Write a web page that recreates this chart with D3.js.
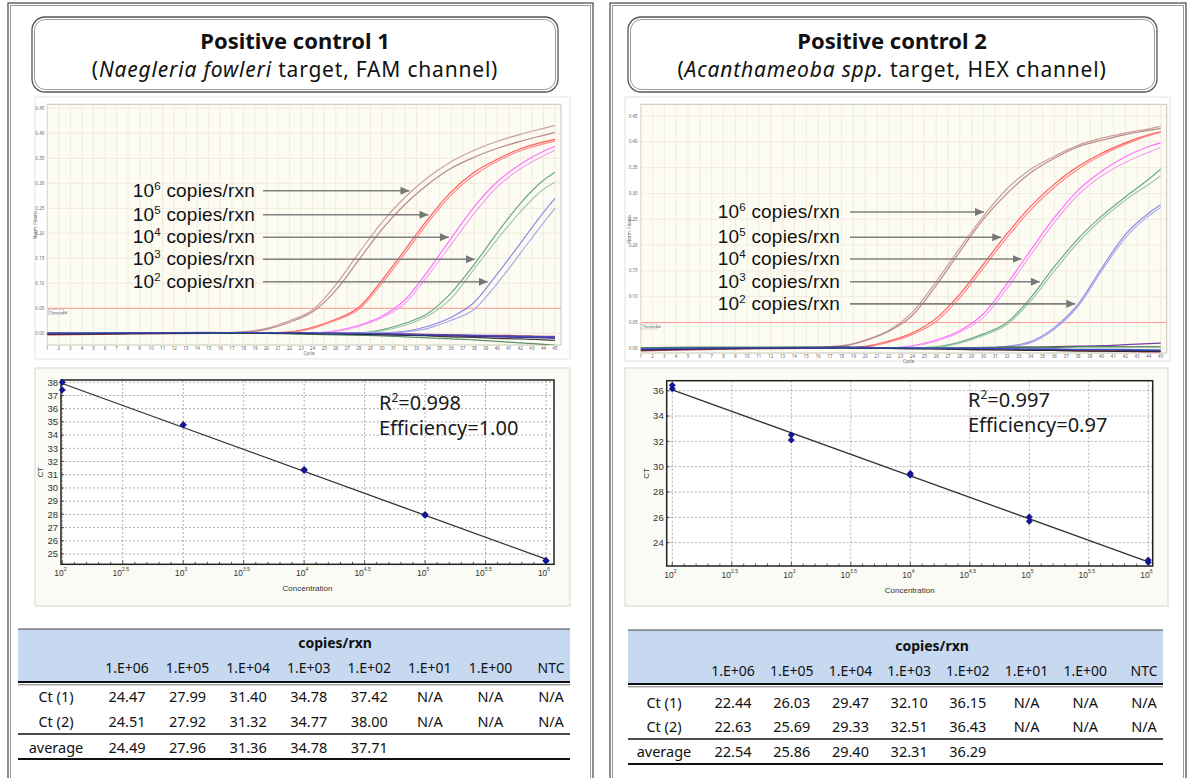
<!DOCTYPE html>
<html lang="en">
<head>
<meta charset="UTF-8"/>
<title>Positive controls - amplification and standard curves</title>
<script src="https://d3js.org/d3.v7.min.js"></script>
<style>
body{margin:0;background:#fff;}
svg{display:block;font-family:"Noto Sans","DejaVu Sans",sans-serif;}
</style>
</head>
<body>
<script>
var W = 1189, H = 778;

//------------ data ------------
// cycles at which the amplification curves were read
var cycles = [1,5,10,15,18,20,22,24,26,28,30,32,34,36,38,40,42,44,45];

// FAM channel (Naegleria fowleri), normalised fluorescence
var famBrown1 = [0.000,0.001,0.001,0.001,0.003,0.010,0.025,0.047,0.097,0.161,0.222,0.272,0.312,0.343,0.366,0.384,0.398,0.410,0.416];
var famBrown2 = [-0.001,0.000,0.001,0.001,0.002,0.008,0.022,0.043,0.086,0.147,0.208,0.258,0.298,0.330,0.352,0.370,0.384,0.396,0.402];
var famRed1   = [0.000,0.001,0.001,0.001,0.001,0.001,0.003,0.012,0.028,0.052,0.106,0.167,0.229,0.283,0.322,0.348,0.369,0.383,0.388];
var famRed2   = [-0.001,0.000,0.000,0.001,0.001,0.001,0.002,0.010,0.026,0.048,0.100,0.160,0.222,0.277,0.316,0.344,0.365,0.379,0.385];
var famMag1   = [0.000,0.000,0.001,0.001,0.001,0.001,0.001,0.001,0.005,0.016,0.034,0.067,0.125,0.190,0.253,0.303,0.338,0.364,0.374];
var famMag2   = [-0.001,0.000,0.000,0.001,0.001,0.001,0.001,0.001,0.004,0.014,0.031,0.060,0.116,0.178,0.240,0.293,0.329,0.355,0.366];
var famGreen1 = [0.000,0.000,0.001,0.001,0.001,0.001,0.001,0.001,0.001,0.001,0.007,0.020,0.040,0.081,0.138,0.201,0.260,0.306,0.322];
var famGreen2 = [-0.001,0.000,0.000,0.001,0.001,0.001,0.001,0.001,0.001,0.001,0.005,0.016,0.035,0.070,0.129,0.188,0.243,0.288,0.302];
var famBlue1  = [0.000,0.000,0.001,0.001,0.001,0.001,0.001,0.001,0.001,0.001,0.001,0.004,0.014,0.032,0.062,0.119,0.180,0.242,0.270];
var famBlue2  = [-0.001,0.000,0.000,0.001,0.001,0.001,0.001,0.001,0.001,0.001,0.000,0.003,0.010,0.026,0.048,0.100,0.160,0.221,0.250];
// no amplification (10^1, 10^0, NTC)
var famNeg1 = [-0.002,-0.001,0.000,0.001,0.001,0.001,0.000,0.000,-0.001,-0.001,-0.002,-0.003,-0.004,-0.005,-0.006,-0.007,-0.008,-0.009,-0.010];
var famNeg2 = [0.001,0.000,0.001,0.002,0.001,0.000,0.001,0.000,0.000,-0.001,-0.002,-0.002,-0.003,-0.004,-0.005,-0.006,-0.007,-0.008,-0.008];
var famNeg3 = [-0.003,-0.002,-0.001,0.000,0.000,0.001,0.001,0.000,0.000,0.000,-0.001,-0.001,-0.002,-0.003,-0.004,-0.004,-0.005,-0.006,-0.006];
var famNeg4 = [0.000,0.000,0.000,0.001,0.000,0.000,-0.001,-0.002,-0.003,-0.004,-0.005,-0.007,-0.009,-0.011,-0.013,-0.016,-0.019,-0.022,-0.024];
var famNeg5 = [-0.001,-0.001,0.000,0.000,0.001,0.000,0.000,-0.001,-0.001,-0.002,-0.003,-0.004,-0.005,-0.007,-0.008,-0.010,-0.011,-0.013,-0.014];
var famNeg6 = [0.000,0.001,0.001,0.001,0.002,0.001,0.001,0.001,0.000,0.000,-0.001,-0.002,-0.003,-0.003,-0.004,-0.005,-0.006,-0.007,-0.007];

// HEX channel (Acanthameoba spp.)
var hexBrown1 = [0.000,0.001,0.001,0.001,0.005,0.016,0.035,0.070,0.129,0.194,0.256,0.309,0.347,0.372,0.393,0.407,0.417,0.425,0.430];
var hexBrown2 = [0.000,0.000,0.001,0.001,0.004,0.015,0.033,0.064,0.122,0.187,0.250,0.300,0.340,0.368,0.390,0.403,0.414,0.422,0.426];
var hexRed1   = [0.000,0.001,0.001,0.001,0.001,0.004,0.014,0.030,0.058,0.105,0.163,0.222,0.275,0.318,0.352,0.378,0.398,0.414,0.420];
var hexRed2   = [0.000,0.000,0.001,0.001,0.001,0.003,0.012,0.027,0.052,0.098,0.156,0.215,0.268,0.312,0.347,0.374,0.395,0.412,0.418];
var hexMag1   = [0.000,0.001,0.001,0.001,0.001,0.001,0.001,0.005,0.016,0.034,0.067,0.125,0.190,0.253,0.306,0.343,0.371,0.391,0.398];
var hexMag2   = [0.000,0.000,0.001,0.001,0.001,0.001,0.001,0.004,0.014,0.031,0.060,0.116,0.181,0.244,0.297,0.334,0.360,0.380,0.389];
var hexGreen1 = [0.000,0.001,0.001,0.001,0.001,0.001,0.001,0.001,0.003,0.012,0.028,0.050,0.098,0.158,0.212,0.256,0.293,0.328,0.347];
var hexGreen2 = [0.000,0.000,0.001,0.001,0.001,0.001,0.001,0.001,0.002,0.010,0.025,0.046,0.092,0.150,0.205,0.250,0.287,0.318,0.334];
var hexBlue1  = [0.000,0.001,0.001,0.001,0.001,0.001,0.001,0.001,0.001,0.001,0.002,0.004,0.013,0.040,0.085,0.155,0.220,0.262,0.278];
var hexBlue2  = [0.000,0.000,0.001,0.001,0.001,0.001,0.001,0.001,0.001,0.001,0.001,0.003,0.011,0.037,0.081,0.150,0.214,0.257,0.273];
var hexNeg1 = [-0.004,-0.002,0.000,0.001,0.002,0.002,0.001,0.001,0.000,0.000,-0.001,-0.001,-0.002,-0.002,-0.003,-0.003,-0.004,-0.004,-0.005];
var hexNeg2 = [-0.002,0.000,0.001,0.002,0.002,0.001,0.001,0.000,0.000,0.001,0.001,0.002,0.002,0.003,0.004,0.005,0.007,0.009,0.010];
var hexNeg3 = [-0.005,-0.003,-0.001,0.000,0.001,0.001,0.000,0.000,-0.001,-0.002,-0.002,-0.003,-0.004,-0.004,-0.005,-0.006,-0.006,-0.007,-0.007];
var hexNeg4 = [0.001,0.002,0.002,0.002,0.002,0.001,0.001,0.001,0.001,0.001,0.001,0.002,0.002,0.002,0.003,0.003,0.003,0.003,0.003];
var hexNeg5 = [-0.003,-0.001,0.000,0.001,0.001,0.000,0.000,-0.001,-0.001,-0.002,-0.003,-0.003,-0.004,-0.004,-0.005,-0.005,-0.006,-0.006,-0.006];
var hexNeg6 = [-0.001,0.000,0.001,0.001,0.001,0.001,0.001,0.001,0.000,0.000,0.000,-0.001,-0.001,-0.001,-0.002,-0.002,-0.002,-0.003,-0.003];

// label rows: exponent of copies/rxn and the fluorescence level the arrow points at
var copyExp = [6,5,4,3,2];
var famLabelLevel = [0.285,0.237,0.192,0.148,0.103];
var hexLabelLevel = [0.264,0.215,0.173,0.129,0.086];

// table
var concLabels = ["1.E+06","1.E+05","1.E+04","1.E+03","1.E+02","1.E+01","1.E+00","NTC"];
var conc = [1e6,1e5,1e4,1e3,1e2];
var famCt1 = [24.47,27.99,31.40,34.78,37.42,null,null,null];
var famCt2 = [24.51,27.92,31.32,34.77,38.00,null,null,null];
var famAvg = [24.49,27.96,31.36,34.78,37.71];
var hexCt1 = [22.44,26.03,29.47,32.10,36.15,null,null,null];
var hexCt2 = [22.63,25.69,29.33,32.51,36.43,null,null,null];
var hexAvg = [22.54,25.86,29.40,32.31,36.29];
var famFit = ["0.998","1.00"];
var hexFit = ["0.997","0.97"];

//------------ layout of the two panels ------------
var curveColors = ["#c9a19c","#b98a86","#ff5c5c","#ff8a8a","#ff70ff","#f2a2f2","#68a982","#9ccaae","#8a8ae6","#a9a9f0"];
var negColors = ["#1a1a8c","#5a2090","#a0204a","#3f7f50","#202020","#3050d0"];

var panels = [
  { title:"Positive control 1", species:"Naegleria fowleri", channel:" target, FAM channel)", cx:295,
    frame:[8,3,585], tbox:[32,17,526,75],
    curves:[famBrown1,famBrown2,famRed1,famRed2,famMag1,famMag2,famGreen1,famGreen2,famBlue1,famBlue2],
    negs:[famNeg1,famNeg2,famNeg3,famNeg4,famNeg5,famNeg6], levels:famLabelLevel,
    amp:{box:[35,97,535,262], left:47.3, right:561, top:104.3, bottom:345, x45:555, y0:333.3, y45:108.3, textRight:255, arrowStart:263},
    std:{box:[35,368,535,238], left:61, right:554, top:380, bottom:564.3, xr:[62.3,546], yd:[25,38], yr:[554,382.3], yt:d3.range(25,39), tx:379, ty:410},
    tab:{x0:18, x1:570, top:629, copies:643, copiesX:335, head:668, dbl:682, r1:697, r2:722, line:734, avg:748, bottom:759, cols:[127,551], lab:56},
    ct1:famCt1, ct2:famCt2, avg:famAvg, fit:famFit },
  { title:"Positive control 2", species:"Acanthameoba spp.", channel:" target, HEX channel)", cx:892,
    frame:[610,3,576], tbox:[628,17,529,75],
    curves:[hexBrown1,hexBrown2,hexRed1,hexRed2,hexMag1,hexMag2,hexGreen1,hexGreen2,hexBlue1,hexBlue2],
    negs:[hexNeg1,hexNeg2,hexNeg3,hexNeg4,hexNeg5,hexNeg6], levels:hexLabelLevel,
    amp:{box:[625,97,545,264], left:640.7, right:1166.7, top:104.3, bottom:353, x45:1160.7, y0:348.3, y45:116, textRight:840, arrowStart:850},
    std:{box:[625,368,543,238], left:666.7, right:1152.7, top:380.7, bottom:566, xr:[672.3,1148.3], yd:[24,36], yr:[542.7,390.7], yt:d3.range(24,37,2), tx:968, ty:407},
    tab:{x0:628, x1:1163, top:630, copies:646, copiesX:932, head:671, dbl:684, r1:703, r2:727, line:739, avg:752, bottom:764, cols:[733,1144], lab:664},
    ct1:hexCt1, ct2:hexCt2, avg:hexAvg, fit:hexFit }
];

var svg = d3.select("body").append("svg").attr("width",W).attr("height",H);
var defs = svg.append("defs");
defs.append("marker").attr("id","arrowHead")
    .attr("viewBox","0 0 10 10").attr("refX",10).attr("refY",5)
    .attr("markerUnits","userSpaceOnUse").attr("markerWidth",9).attr("markerHeight",9)
    .attr("orient","auto")
    .append("path").attr("d","M0,0.5L10,5L0,9.5z").attr("fill","#777");

var fmt2 = d3.format(".2f");
var narrow = "'Liberation Sans Narrow','Liberation Sans',Arial,sans-serif";
var labelFont = "'Liberation Sans',Arial,sans-serif";

panels.forEach(function(p, pi){
  var g = svg.append("g");

  //------------ panel frame and title box ------------
  g.append("rect").attr("x",p.frame[0]).attr("y",p.frame[1]).attr("width",p.frame[2]).attr("height",H+20)
   .attr("fill","none").attr("stroke","#444").attr("stroke-width",1.2);
  g.append("rect").attr("x",p.frame[0]+2.5).attr("y",p.frame[1]+2.5).attr("width",p.frame[2]-5).attr("height",H+20)
   .attr("fill","none").attr("stroke","#9a9a9a").attr("stroke-width",1);

  var tb = p.tbox;
  g.append("rect").attr("x",tb[0]).attr("y",tb[1]).attr("width",tb[2]).attr("height",tb[3])
   .attr("rx",13).attr("fill","#fff").attr("stroke","#555").attr("stroke-width",1.3);
  g.append("rect").attr("x",tb[0]+2.5).attr("y",tb[1]+2.5).attr("width",tb[2]-5).attr("height",tb[3]-5)
   .attr("rx",11).attr("fill","none").attr("stroke","#999").attr("stroke-width",1);
  g.append("text").attr("x",p.cx).attr("y",49).attr("text-anchor","middle")
   .attr("font-size",22).attr("font-weight","bold").attr("fill","#111").text(p.title);
  var sub = g.append("text").attr("x",p.cx).attr("y",77).attr("text-anchor","middle")
   .attr("font-size",21).attr("letter-spacing",0.8).attr("fill","#111");
  sub.append("tspan").text("(");
  sub.append("tspan").attr("font-style","italic").text(p.species);
  sub.append("tspan").text(p.channel);

  //------------ amplification plot ------------
  var a = p.amp;
  var xA = d3.scaleLinear().domain([1,45]).range([a.left,a.x45]);
  var yA = d3.scaleLinear().domain([0,0.45]).range([a.y0,a.y45]);

  g.append("rect").attr("x",a.box[0]).attr("y",a.box[1]).attr("width",a.box[2]).attr("height",a.box[3])
   .attr("fill","#fff").attr("stroke","#e2e2e2");
  g.append("rect").attr("x",a.left).attr("y",a.top).attr("width",a.right-a.left).attr("height",a.bottom-a.top)
   .attr("fill","#fdfcf3").attr("stroke","#c9c4b6").attr("stroke-width",1);

  var clipId = "ampClip"+pi;
  defs.append("clipPath").attr("id",clipId).append("rect")
      .attr("x",a.left).attr("y",a.top).attr("width",a.right-a.left).attr("height",a.bottom-a.top);

  g.append("g").selectAll("line").data(d3.range(1,46)).enter().append("line")
   .attr("x1",function(d){return xA(d);}).attr("x2",function(d){return xA(d);})
   .attr("y1",a.top).attr("y2",a.bottom).attr("stroke","#ece7d8").attr("stroke-width",0.8);
  var yTicksA = d3.range(0,0.46,0.05);
  g.append("g").selectAll("line").data(yTicksA).enter().append("line")
   .attr("x1",a.left).attr("x2",a.right)
   .attr("y1",function(d){return yA(d);}).attr("y2",function(d){return yA(d);})
   .attr("stroke","#ece7d8").attr("stroke-width",0.8);

  // tiny tick labels
  g.append("g").selectAll("text").data(yTicksA).enter().append("text")
   .attr("x",a.left-3).attr("y",function(d){return yA(d)+1.5;})
   .attr("text-anchor","end").attr("font-size",4.5).attr("fill","#666")
   .text(function(d){return fmt2(d);});
  g.append("g").selectAll("text").data(d3.range(1,46)).enter().append("text")
   .attr("x",function(d){return xA(d);}).attr("y",a.bottom+5)
   .attr("text-anchor","middle").attr("font-size",4.5).attr("fill","#666")
   .text(function(d){return d;});
  g.append("text").attr("x",xA(23.2)).attr("y",a.bottom+10).attr("font-size",4.5).attr("fill","#666").text("Cycle");
  g.append("text").attr("transform","translate("+(a.left-10)+","+((a.top+a.bottom)/2)+") rotate(-90)")
   .attr("text-anchor","middle").attr("font-size",4.5).attr("fill","#666").text("Norm. Fluoro.");

  // threshold
  g.append("line").attr("x1",a.left).attr("x2",a.right).attr("y1",yA(0.05)).attr("y2",yA(0.05))
   .attr("stroke","#ff9a9a").attr("stroke-width",1);
  g.append("rect").attr("x",a.left+1).attr("y",yA(0.05)+1.5).attr("width",15).attr("height",5)
   .attr("fill","#fff").attr("stroke","#999").attr("stroke-width",0.4);
  g.append("text").attr("x",a.left+2).attr("y",yA(0.05)+5.3).attr("font-size",3.8).attr("fill","#444").text("Threshold");

  var line = d3.line()
      .x(function(d,i){return xA(cycles[i]);})
      .y(function(d){return yA(d);})
      .curve(d3.curveMonotoneX);
  var curveG = g.append("g").attr("clip-path","url(#"+clipId+")");
  curveG.selectAll("path.amp").data(p.curves).enter().append("path").attr("class","amp")
   .attr("d",line).attr("fill","none")
   .attr("stroke",function(d,i){return curveColors[i];}).attr("stroke-width",1.2);
  curveG.selectAll("path.neg").data(p.negs).enter().append("path").attr("class","neg")
   .attr("d",line).attr("fill","none")
   .attr("stroke",function(d,i){return negColors[i];}).attr("stroke-width",1.3).attr("opacity",0.85);

  // labels with arrows pointing at the first replicate of each dilution
  function crossCycle(vals, level){
    for (var i=1;i<vals.length;i++){
      if (vals[i] >= level){
        var t = (level-vals[i-1])/(vals[i]-vals[i-1]);
        return cycles[i-1] + t*(cycles[i]-cycles[i-1]);
      }
    }
    return 45;
  }
  copyExp.forEach(function(e, k){
    var lv = p.levels[k];
    var yy = yA(lv);
    var tip = xA(crossCycle(p.curves[k*2], lv)) - 3;
    g.append("line").attr("x1",a.arrowStart).attr("x2",tip).attr("y1",yy).attr("y2",yy)
     .attr("stroke","#808080").attr("stroke-width",1.6).attr("marker-end","url(#arrowHead)");
    var t = g.append("text").attr("x",a.textRight).attr("y",yy+6).attr("text-anchor","end")
     .attr("font-family",labelFont).attr("font-size",19).attr("letter-spacing",0.2).attr("fill","#111");
    t.append("tspan").text("10");
    t.append("tspan").attr("dy",-7).attr("font-size",11.5).text(e);
    t.append("tspan").attr("dy",7).text(" copies/rxn");
  });

  //------------ standard curve ------------
  var s = p.std;
  var xS = d3.scaleLog().domain([1e2,1e6]).range(s.xr);
  var yS = d3.scaleLinear().domain(s.yd).range(s.yr);
  g.append("rect").attr("x",s.box[0]).attr("y",s.box[1]).attr("width",s.box[2]).attr("height",s.box[3])
   .attr("fill","#fbfbf5").attr("stroke","#d6d6d6");
  g.append("rect").attr("x",s.left).attr("y",s.top).attr("width",s.right-s.left).attr("height",s.bottom-s.top)
   .attr("fill","#fff");

  var halfDec = d3.range(2,6.01,0.5);
  g.append("g").selectAll("line").data(s.yt).enter().append("line")
   .attr("x1",s.left).attr("x2",s.right)
   .attr("y1",function(d){return yS(d);}).attr("y2",function(d){return yS(d);})
   .attr("stroke","#9a9a9a").attr("stroke-width",0.8).attr("stroke-dasharray","2,2");
  g.append("g").selectAll("line").data(halfDec).enter().append("line")
   .attr("x1",function(d){return xS(Math.pow(10,d));}).attr("x2",function(d){return xS(Math.pow(10,d));})
   .attr("y1",s.top).attr("y2",s.bottom)
   .attr("stroke","#9a9a9a").attr("stroke-width",0.8).attr("stroke-dasharray","2,2");
  // minor ticks every 0.1 decade
  g.append("g").selectAll("line").data(d3.range(20,61)).enter().append("line")
   .attr("x1",function(d){return xS(Math.pow(10,d/10));}).attr("x2",function(d){return xS(Math.pow(10,d/10));})
   .attr("y1",s.bottom).attr("y2",function(d){return s.bottom-(d%5===0?4:2.5);})
   .attr("stroke","#333").attr("stroke-width",0.8);
  g.append("g").selectAll("line").data(s.yt).enter().append("line")
   .attr("x1",s.left).attr("x2",s.left+3)
   .attr("y1",function(d){return yS(d);}).attr("y2",function(d){return yS(d);})
   .attr("stroke","#333").attr("stroke-width",0.8);
  g.append("rect").attr("x",s.left).attr("y",s.top).attr("width",s.right-s.left).attr("height",s.bottom-s.top)
   .attr("fill","none").attr("stroke","#222").attr("stroke-width",1.5);

  g.append("g").selectAll("text").data(s.yt).enter().append("text")
   .attr("x",s.left-3).attr("y",function(d){return yS(d)+3.3;})
   .attr("text-anchor","end").attr("font-size",9.5).attr("font-family",narrow).attr("fill","#333")
   .text(function(d){return d;});
  halfDec.forEach(function(d){
    var t = g.append("text").attr("x",xS(Math.pow(10,d))-2).attr("y",s.bottom+12)
     .attr("text-anchor","middle").attr("font-size",8.5).attr("font-family",narrow).attr("fill","#333");
    t.append("tspan").text("10");
    t.append("tspan").attr("dy",-5).attr("font-size",5).text(d);
  });
  g.append("text").attr("x",(s.left+s.right)/2).attr("y",s.bottom+27).attr("text-anchor","middle")
   .attr("font-size",8).attr("font-family",narrow).attr("fill","#333").text("Concentration");
  g.append("text").attr("transform","translate("+(s.left-18)+","+((s.top+s.bottom)/2)+") rotate(-90)")
   .attr("text-anchor","middle").attr("font-size",8).attr("font-family",narrow).attr("fill","#333").text("CT");

  // replicate points and least squares fit on log10 concentration
  var pts = [];
  conc.forEach(function(c,i){
    pts.push({c:c, ct:p.ct1[i]});
    pts.push({c:c, ct:p.ct2[i]});
  });
  var mx = d3.mean(pts,function(d){return Math.log10(d.c);});
  var my = d3.mean(pts,function(d){return d.ct;});
  var slope = d3.sum(pts,function(d){return (Math.log10(d.c)-mx)*(d.ct-my);}) /
              d3.sum(pts,function(d){return Math.pow(Math.log10(d.c)-mx,2);});
  var icpt = my - slope*mx;
  var ends = d3.extent(conc);
  g.append("line")
   .attr("x1",xS(ends[0])).attr("y1",yS(icpt+slope*Math.log10(ends[0])))
   .attr("x2",xS(ends[1])).attr("y2",yS(icpt+slope*Math.log10(ends[1])))
   .attr("stroke","#333").attr("stroke-width",1.3);
  g.append("g").selectAll("path").data(pts).enter().append("path")
   .attr("d",d3.symbol().type(d3.symbolSquare).size(20))
   .attr("transform",function(d){return "translate("+xS(d.c)+","+yS(d.ct)+") rotate(45)";})
   .attr("fill","#1414a0").attr("stroke","#0a0a60").attr("stroke-width",0.5);

  var r = g.append("text").attr("x",s.tx).attr("y",s.ty).attr("font-size",20).attr("fill","#1a1a1a");
  r.append("tspan").text("R");
  r.append("tspan").attr("dy",-8).attr("font-size",12).text("2");
  r.append("tspan").attr("dy",8).text("=" + p.fit[0]);
  g.append("text").attr("x",s.tx).attr("y",s.ty+25).attr("font-size",20).attr("fill","#1a1a1a")
   .text("Efficiency=" + p.fit[1]);

  //------------ Ct table ------------
  var tbl = p.tab;
  var xT = d3.scalePoint().domain(concLabels).range(tbl.cols);
  g.append("rect").attr("x",tbl.x0).attr("y",tbl.top).attr("width",tbl.x1-tbl.x0).attr("height",tbl.dbl-tbl.top)
   .attr("fill","#c6d9f0");
  g.append("line").attr("x1",tbl.x0).attr("x2",tbl.x1).attr("y1",tbl.top).attr("y2",tbl.top)
   .attr("stroke","#444").attr("stroke-width",1);
  g.append("line").attr("x1",tbl.x0).attr("x2",tbl.x1).attr("y1",tbl.dbl).attr("y2",tbl.dbl)
   .attr("stroke","#111").attr("stroke-width",2);
  g.append("line").attr("x1",tbl.x0).attr("x2",tbl.x1).attr("y1",tbl.dbl+2.8).attr("y2",tbl.dbl+2.8)
   .attr("stroke","#777").attr("stroke-width",1);
  g.append("line").attr("x1",tbl.x0).attr("x2",tbl.x1).attr("y1",tbl.line).attr("y2",tbl.line)
   .attr("stroke","#111").attr("stroke-width",1.6);
  g.append("line").attr("x1",tbl.x0).attr("x2",tbl.x1).attr("y1",tbl.bottom).attr("y2",tbl.bottom)
   .attr("stroke","#111").attr("stroke-width",2.2);

  g.append("text").attr("x",tbl.copiesX).attr("y",tbl.copies+5)
   .attr("text-anchor","middle").attr("font-size",14).attr("font-weight","bold").attr("fill","#111").text("copies/rxn");
  g.append("g").selectAll("text").data(concLabels).enter().append("text")
   .attr("x",function(d){return xT(d);}).attr("y",tbl.head+5)
   .attr("text-anchor","middle").attr("font-size",14).attr("fill","#111").text(function(d){return d;});

  var rows = [
    {label:"Ct (1)", y:tbl.r1, vals:p.ct1, blank:"N/A"},
    {label:"Ct (2)", y:tbl.r2, vals:p.ct2, blank:"N/A"},
    {label:"average", y:tbl.avg, vals:p.avg, blank:""}
  ];
  rows.forEach(function(row){
    g.append("text").attr("x",tbl.lab).attr("y",row.y+5).attr("text-anchor","middle")
     .attr("font-size",14.5).attr("fill","#111").text(row.label);
    g.append("g").selectAll("text").data(concLabels).enter().append("text")
     .attr("x",function(d){return xT(d);}).attr("y",row.y+5)
     .attr("text-anchor","middle").attr("font-size",14.5).attr("fill","#111")
     .text(function(d,i){ var v=row.vals[i]; return (v===null||v===undefined) ? row.blank : fmt2(v); });
  });
});
</script>
</body>
</html>
